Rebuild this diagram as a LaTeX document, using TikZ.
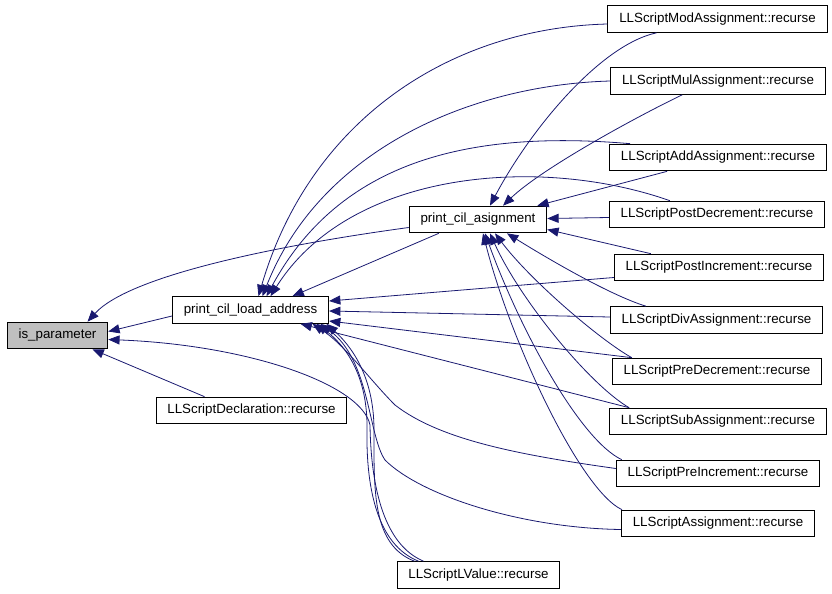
\documentclass[tikz,border=0pt]{standalone}
\usepackage{fontspec}
\setmainfont{Liberation Sans}
\usetikzlibrary{arrows.meta}
\usetikzlibrary{calc}
\definecolor{navyedge}{HTML}{191970}
\definecolor{callgray}{HTML}{BFBFBF}
\tikzset{
    fnnode/.style = {rectangle, draw=black, line width=0.75pt, fill=white, inner xsep=8.5pt, inner ysep=0pt, minimum height=20pt, font=\fontsize{10}{12}\selectfont},
    fnnodeg/.style = {fnnode, fill=callgray}, % the called function
    edgeb/.style = {-{Triangle[length=8.5pt,width=6.8pt]}, line width=0.6pt, navyedge}
}
\begin{document}
\begin{tikzpicture}[x=0.75pt, y=-0.75pt]
  \useasboundingbox (0,0) rectangle (832,593);

  \node[fnnodeg] at (57.5,335.5) (isp) {is\_parameter};
  \node[fnnode] at (250.5,310) (pcla) {print\_cil\_load\_address};
  \node[fnnode] at (251.5,410.5) (decl) {LLScriptDeclaration::recurse};
  \node[fnnode] at (478,219.5) (pca) {print\_cil\_asignment};
  \node[fnnode] at (478.5,575) (lval) {LLScriptLValue::recurse};

  \node[fnnode] at (717.5,19) (modr) {LLScriptModAssignment::recurse};
  \node[fnnode] at (718,81) (mulr) {LLScriptMulAssignment::recurse};
  \node[fnnode] at (718,157.5) (addr) {LLScriptAddAssignment::recurse};
  \node[fnnode] at (717,214.5) (pdec) {LLScriptPostDecrement::recurse};
  \node[fnnode] at (719,267.5) (pinc) {LLScriptPostIncrement::recurse};
  \node[fnnode] at (716.5,320) (divr) {LLScriptDivAssignment::recurse};
  \node[fnnode] at (717,371.5) (prdec) {LLScriptPreDecrement::recurse};
  \node[fnnode] at (718,421.5) (subr) {LLScriptSubAssignment::recurse};
  \node[fnnode] at (718,473.5) (princ) {LLScriptPreIncrement::recurse};
  \node[fnnode] at (718,523.5) (asgn) {LLScriptAssignment::recurse};

  % into is_parameter
  \draw[edgeb] ($(pcla.west)+(0,6)$) -- ($(isp.east)+(0,-4)$);
  \draw[edgeb] ($(pca.west)+(0,8)$) .. controls (280,245) and (130,275) .. ($(isp.north)+(30,0)$);
  \draw[edgeb] ($(decl.north)+(-47,0)$) -- ($(isp.south)+(35,0)$);
  \draw[edgeb] ($(lval.north)+(-55,0)$) .. controls (385,545) and (371,490) .. (370,425) .. controls (362,385) and (250,345) .. ($(isp.east)+(0,4)$);

  % into print_cil_load_address
  \draw[edgeb] ($(modr.west)+(0,5)$) .. controls (450,28) and (310,120) .. ($(pcla.north)+(8,0)$);
  \draw[edgeb] (mulr.west) .. controls (470,85) and (320,150) .. ($(pcla.north)+(12,0)$);
  \draw[edgeb] ($(addr.north west)+(21,0)$) .. controls (470,130) and (340,160) .. ($(pcla.north)+(16,0)$);
  \draw[edgeb] ($(pdec.north west)+(61,0)$) .. controls (540,155) and (350,170) .. ($(pcla.north)+(20,0)$);
  \draw[edgeb] ($(pca.south west)+(30,0)$) -- ($(pcla.north)+(42,0)$);
  \draw[edgeb] ($(pinc.west)+(0,10)$) -- ($(pcla.east)+(0,-9)$);
  \draw[edgeb] ($(divr.west)+(0,-3)$) -- ($(pcla.east)+(0,1)$);
  \draw[edgeb] ($(prdec.north west)+(20,0)$) -- ($(pcla.east)+(0,11)$);
  \draw[edgeb] ($(subr.north west)+(20,0)$) -- ($(pcla.south)+(50,0)$);
  \draw[edgeb] ($(princ.west)+(0,-5)$) .. controls (520,455) and (440,440) .. (395,405) .. controls (370,380) and (345,345) .. ($(pcla.south)+(62,0)$);
  \draw[edgeb] ($(asgn.west)+(0,6)$) .. controls (520,528) and (420,495) .. (385,460) .. controls (368,435) and (370,360) .. ($(pcla.south)+(70,0)$);
  \draw[edgeb] ($(lval.north)+(-60,0)$) .. controls (378,545) and (366,490) .. (367,430) .. controls (368,375) and (345,345) .. ($(pcla.south)+(66,0)$);
  \draw[edgeb] ($(lval.north)+(-64,0)$) .. controls (372,545) and (374,490) .. (374,430) .. controls (374,375) and (350,345) .. ($(pcla.south)+(76,0)$);

  % into print_cil_asignment
  \draw[edgeb] ($(modr.south west)+(49,0)$) .. controls (600,45) and (530,130) .. ($(pca.north)+(12,0)$);
  \draw[edgeb] ($(mulr.south west)+(72,0)$) .. controls (630,120) and (540,170) .. ($(pca.north)+(25,0)$);
  \draw[edgeb] ($(addr.south west)+(58,0)$) -- ($(pca.north east)+(-10,0)$);
  \draw[edgeb] ($(pdec.west)+(0,3)$) -- ($(pca.east)+(0,-1)$);
  \draw[edgeb] ($(pinc.north west)+(37,0)$) -- ($(pca.east)+(0,10)$);
  \draw[edgeb] ($(divr.north west)+(36,0)$) .. controls (610,295) and (550,260) .. ($(pca.south)+(29,0)$);
  \draw[edgeb] ($(prdec.north west)+(20,0)$) .. controls (600,340) and (530,280) .. ($(pca.south)+(17,0)$);
  \draw[edgeb] ($(subr.north west)+(20,0)$) .. controls (590,385) and (520,300) .. ($(pca.south)+(12,0)$);
  \draw[edgeb] ($(princ.north west)+(6,0)$) .. controls (580,440) and (520,330) .. ($(pca.south)+(7,0)$);
  \draw[edgeb] ($(asgn.north west)+(1,0)$) .. controls (580,490) and (510,340) .. ($(pca.south)+(5,0)$);
\end{tikzpicture}
\end{document}
